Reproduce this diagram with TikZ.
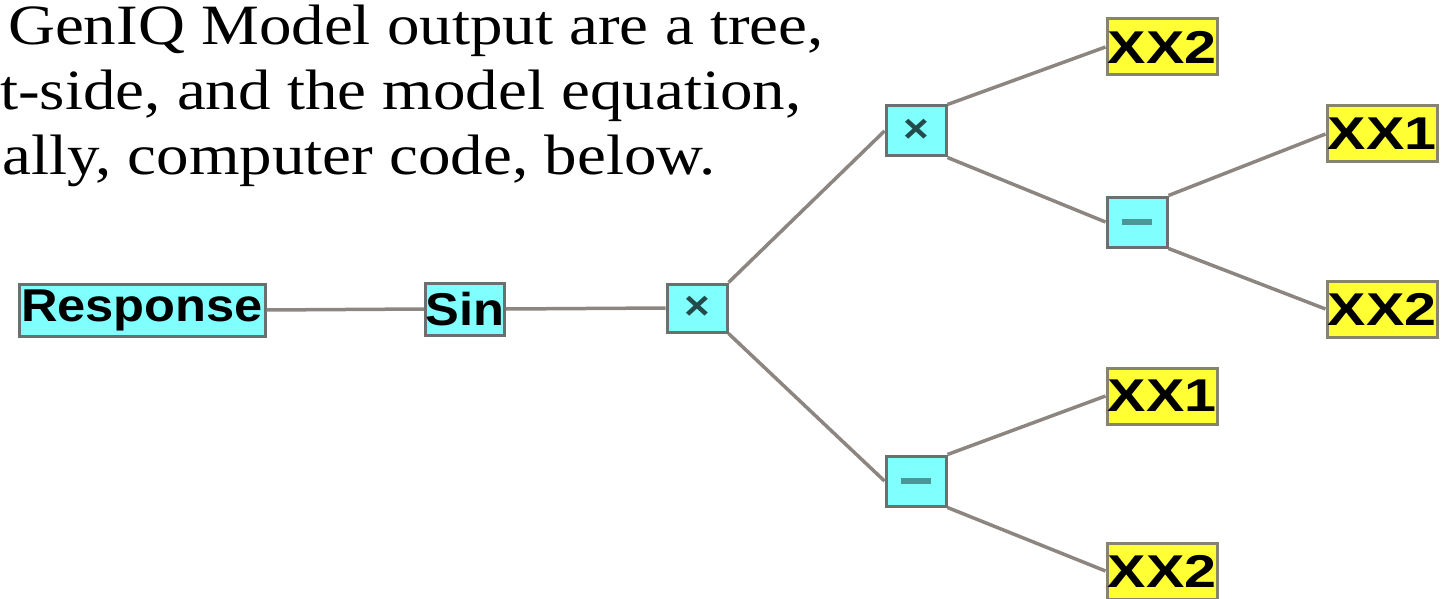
\documentclass[tikz,border=0pt]{standalone}
\usepackage{fontspec}
\setmainfont{Liberation Serif}
\newfontfamily\headfont[FakeStretch=1.14]{Liberation Serif}
\newfontfamily\nodefont[FakeStretch=1.1]{Liberation Sans}
\newfontfamily\varfont[FakeStretch=1.25]{Liberation Sans}
\definecolor{cyanfill}{RGB}{128,255,255}
\definecolor{boxgray}{RGB}{105,112,110}
\definecolor{yelfill}{RGB}{255,255,51}
\definecolor{yelborder}{RGB}{135,132,110}
\definecolor{edgegray}{RGB}{140,133,128}
\definecolor{timestext}{RGB}{35,75,75}
\definecolor{dashtext}{RGB}{75,150,150}
\tikzset{
  basebox/.style={line width=3pt, inner sep=0pt, rectangle},
  labelbox/.style={basebox, draw=boxgray, fill=cyanfill, minimum height=52pt,
    font=\nodefont\bfseries\fontsize{46}{46}\selectfont},
  opbox/.style={basebox, draw=boxgray, fill=cyanfill, minimum width=60pt, minimum height=50pt},
  mulbox/.style={opbox, text=timestext, font=\nodefont\bfseries\fontsize{40}{40}\selectfont},
  subbox/.style={opbox, text=dashtext},
  varbox/.style={basebox, draw=yelborder, fill=yelfill, minimum width=110pt, minimum height=56pt,
    font=\varfont\bfseries\fontsize{46}{46}\selectfont},
  edge/.style={draw=edgegray, line width=3.5pt},
  heading/.style={anchor=base west, inner sep=0pt, font=\headfont\fontsize{57}{65}\selectfont}
}
\newcommand{\mulsym}{\raisebox{-4pt}{×}}
\newcommand{\subsym}{\raisebox{-3pt}{\rule{30pt}{6pt}}}
\begin{document}
\begin{tikzpicture}[x=1pt,y=-1pt]
\useasboundingbox (0,0) rectangle (1451,599);
\node[heading] (t1) at (8,45) {GenIQ Model output are a tree,};
\node[heading] (t2) at (0,110) {t-side, and the model equation,};
\node[heading] (t3) at (2,175) {ally, computer code, below.};

\node[labelbox, minimum width=246pt] (resp) at (142,310) {Response};
\node[labelbox, minimum width=78pt] (sin) at (465,309) {Sin};
\node[mulbox, minimum height=48pt] (root) at (697,308) {\mulsym};
\node[mulbox] (mulU) at (916,131) {\mulsym};
\node[subbox] (subM) at (1137,222) {\subsym};
\node[subbox] (subL) at (916,481) {\subsym};
\node[varbox] (xa) at (1162,47) {XX2};
\node[varbox] (xb) at (1382,134) {XX1};
\node[varbox] (xc) at (1382,309) {XX2};
\node[varbox] (xd) at (1162,396) {XX1};
\node[varbox] (xe) at (1162,571) {XX2};

\draw[edge] (resp.east) -- (sin.west);
\draw[edge] (sin.east) -- (root.west);
\draw[edge] (root.north east) -- (mulU.west);
\draw[edge] (root.south east) -- (subL.west);
\draw[edge] (mulU.north east) -- (xa.west);
\draw[edge] (mulU.south east) -- (subM.west);
\draw[edge] (subM.north east) -- (xb.west);
\draw[edge] (subM.south east) -- (xc.west);
\draw[edge] (subL.north east) -- (xd.west);
\draw[edge] (subL.south east) -- (xe.west);
\end{tikzpicture}
\end{document}
